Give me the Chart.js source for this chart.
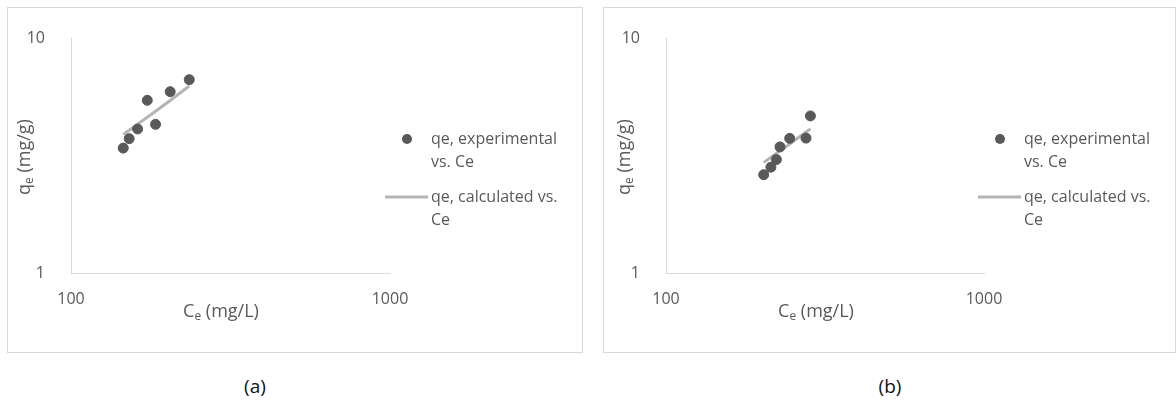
<!DOCTYPE html>
<html>
<head>
<meta charset="utf-8">
<script src="https://cdn.jsdelivr.net/npm/chart.js@4/dist/chart.umd.min.js"></script>
<style>
  html, body { margin: 0; padding: 0; background: #fff; }
  body { width: 1176px; height: 401px; position: relative; overflow: hidden; font-family: "Open Sans", sans-serif; }
  .panel { position: absolute; top: 7px; height: 346px; box-sizing: border-box; border: 1px solid #d9d9d9; background: #fff; }
  .panel canvas { display: block; }
  .caption { position: absolute; top: 373px; font-size: 19px; line-height: 26px; color: #111; transform: translateX(-50%); }
</style>
</head>
<body>
<div class="panel" style="left:7px;width:576px;"><canvas id="chartA" width="574" height="344"></canvas></div>
<div class="panel" style="left:603px;width:573px;"><canvas id="chartB" width="571" height="344"></canvas></div>
<div class="caption" style="left:255px;">(a)</div>
<div class="caption" style="left:890px;">(b)</div>

<script>
'use strict';

/* global Chart */

// ---- data ------------------------------------------------------------
const xTicks = [100, 1000];
const yTicks = [1, 10];

// (a)
const ceA     = [145.8, 152.2, 161.7, 173.4, 184.1, 204.6, 234.8];
const qeExpA  = [3.40, 3.73, 4.10, 5.43, 4.29, 5.91, 6.65];
const qeCalcA = [3.88, 4.05, 4.30, 4.60, 4.88, 5.42, 6.25];

// (b)
const ceB     = [202.9, 213.8, 222.4, 228.3, 244.9, 275.6, 284.5];
const qeExpB  = [2.62, 2.82, 3.04, 3.44, 3.74, 3.75, 4.66];
const qeCalcB = [2.95, 3.11, 3.23, 3.31, 3.54, 3.98, 4.10];

const expLabel  = ['qe, experimental', 'vs. Ce'];
const calcLabel = ['qe, calculated vs.', 'Ce'];

// ---- style -----------------------------------------------------------
const FONT      = '"Open Sans", sans-serif';
const TEXT_CLR  = '#595959';
const AXIS_CLR  = '#d9d9d9';
const DOT_CLR   = '#595959';
const FIT_CLR   = '#b4b4b4';

// draws the wrapped legend and the subscripted axis titles
const decorPlugin = {
  id: 'decor',
  afterDraw(chart, args, opts) {
    const ctx = chart.ctx;
    ctx.save();
    ctx.font = '16px ' + FONT;
    ctx.fillStyle = TEXT_CLR;
    ctx.textBaseline = 'middle';
    ctx.textAlign = 'left';

    // legend
    const lx = opts.legendX;
    ctx.beginPath();
    ctx.arc(lx - 24, 131, 5, 0, Math.PI * 2);
    ctx.fillStyle = DOT_CLR;
    ctx.fill();
    ctx.fillStyle = TEXT_CLR;
    expLabel.forEach((t, i) => ctx.fillText(t, lx, 131 + i * 23));

    ctx.strokeStyle = FIT_CLR;
    ctx.lineWidth = 3;
    ctx.beginPath();
    ctx.moveTo(lx - 46, 189);
    ctx.lineTo(lx - 3, 189);
    ctx.stroke();
    calcLabel.forEach((t, i) => ctx.fillText(t, lx, 189 + i * 23));

    // axis titles: main letter, small subscript "e", then the unit
    const subTitle = (main, unit, cx, cy) => {
      ctx.font = '18px ' + FONT;
      const w1 = ctx.measureText(main).width;
      const w3 = ctx.measureText(unit).width;
      ctx.font = '12px ' + FONT;
      const w2 = ctx.measureText('e').width;
      let x = cx - (w1 + w2 + w3) / 2;
      ctx.font = '18px ' + FONT;
      ctx.fillText(main, x, cy);
      x += w1;
      ctx.font = '12px ' + FONT;
      ctx.fillText('e', x, cy + 5);
      x += w2;
      ctx.font = '18px ' + FONT;
      ctx.fillText(unit, x, cy);
    };
    subTitle('C', ' (mg/L)', opts.xTitle[0], opts.xTitle[1]);

    ctx.translate(opts.yTitle[0], opts.yTitle[1]);
    ctx.rotate(-Math.PI / 2);
    subTitle('q', ' (mg/g)', 0, 0);
    ctx.restore();
  }
};

function makePanel(canvasId, ce, qeExp, qeCalc, decor) {
  const canvas = document.getElementById(canvasId);
  return new Chart(canvas, {
    type: 'scatter',
    data: {
      datasets: [
        {
          label: expLabel.join(' '),
          data: ce.map((c, i) => ({ x: c, y: qeExp[i] })),
          backgroundColor: DOT_CLR,
          borderColor: DOT_CLR,
          pointRadius: 5,
          pointHoverRadius: 5,
          order: 1,
        },
        {
          label: calcLabel.join(' '),
          data: ce.map((c, i) => ({ x: c, y: qeCalc[i] })),
          showLine: true,
          borderColor: FIT_CLR,
          borderWidth: 3,
          pointRadius: 0,
          order: 2,
        }
      ]
    },
    options: {
      responsive: false,
      animation: false,
      layout: { padding: { top: 30, right: canvas.width - decor.plotRight, bottom: 0, left: 0 } },
      scales: {
        x: {
          type: 'logarithmic',
          min: 100, max: 1000,
          afterBuildTicks: s => { s.ticks = xTicks.map(v => ({ value: v })); },
          afterFit: s => { s.height = 79; },
          grid: { display: false },
          border: { display: true, color: AXIS_CLR, width: 1 },
          ticks: { color: TEXT_CLR, font: { size: 16, family: FONT }, padding: 9, maxRotation: 0, callback: v => String(v) }
        },
        y: {
          type: 'logarithmic',
          min: 1, max: 10,
          afterBuildTicks: s => { s.ticks = yTicks.map(v => ({ value: v })); },
          afterFit: s => { s.width = decor.plotLeft; },
          grid: { display: false },
          border: { display: true, color: AXIS_CLR, width: 1 },
          ticks: { color: TEXT_CLR, font: { size: 16, family: FONT }, padding: 18, callback: v => String(v) }
        }
      },
      plugins: {
        legend: { display: false },
        tooltip: { enabled: false },
        decor: decor
      }
    },
    plugins: [decorPlugin]
  });
}

makePanel('chartA', ceA, qeExpA, qeCalcA, {
  plotLeft: 63, plotRight: 382, legendX: 423, xTitle: [213, 304], yTitle: [17, 149]
});
makePanel('chartB', ceB, qeExpB, qeCalcB, {
  plotLeft: 62, plotRight: 380, legendX: 420, xTitle: [212, 304], yTitle: [21, 149]
});
</script>
</body>
</html>
